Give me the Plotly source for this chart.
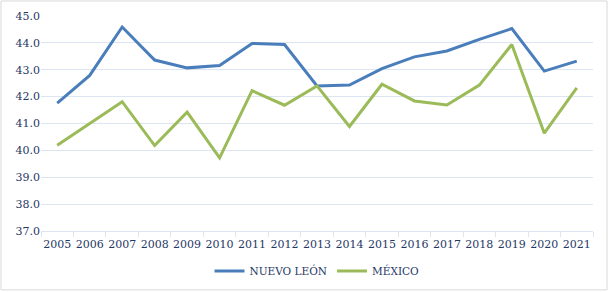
import plotly.graph_objects as go

years = [str(y) for y in range(2005, 2022)]
nuevo_leon = [41.76, 42.79, 44.59, 43.36, 43.07, 43.16, 43.98, 43.94, 42.40,
              42.43, 43.04, 43.48, 43.70, 44.13, 44.53, 42.95, 43.32]
mexico = [40.19, 41.01, 41.81, 40.18, 41.42, 39.72, 42.22, 41.68, 42.40,
          40.89, 42.46, 41.84, 41.69, 42.43, 43.94, 40.64, 42.33]

text_color = "#1F3864"
grid_color = "#DCE6F2"
serif = "DejaVu Serif"

fig = go.Figure()
fig.add_trace(go.Scatter(x=years, y=nuevo_leon, mode="lines", name="NUEVO LEÓN",
                         line=dict(color="#4A7EBB", width=3)))
fig.add_trace(go.Scatter(x=years, y=mexico, mode="lines", name="MÉXICO",
                         line=dict(color="#9BBB59", width=3)))

fig.update_layout(
    width=609, height=292,
    margin=dict(l=41, r=16, t=16, b=61, autoexpand=False),
    paper_bgcolor="white", plot_bgcolor="white",
    font=dict(family=serif, size=11, color=text_color),
    showlegend=True,
    legend=dict(orientation="h", x=0.5, xanchor="center",
                yref="container", y=0.072, yanchor="middle",
                itemwidth=30, tracegroupgap=0,
                font=dict(family=serif, size=10.5, color=text_color)),
    xaxis=dict(type="category", range=[-0.5, len(years) - 0.5], showgrid=False,
               showline=True, linecolor=grid_color, tickangle=0, automargin=False,
               linewidth=1, ticks="outside", tickson="boundaries", ticklen=5,
               ticklabelstandoff=3,
               tickcolor=grid_color, tickfont=dict(family=serif, size=11, color=text_color)),
    yaxis=dict(range=[37, 45], dtick=1, tickformat=".1f", showgrid=True, automargin=False,
               gridcolor=grid_color, gridwidth=1, zeroline=False, showline=False,
               tickfont=dict(family=serif, size=11, color=text_color), ticks=""),
    shapes=[dict(type="rect", xref="paper", yref="paper",
                 x0=-0.0725, x1=1.0254, y0=-0.274, y1=1.0698,
                 line=dict(color="#D9D9D9", width=1), layer="below")],
)

fig.write_html("out.html", config={"displayModeBar": False},
               post_script="document.body.style.margin='0';")
